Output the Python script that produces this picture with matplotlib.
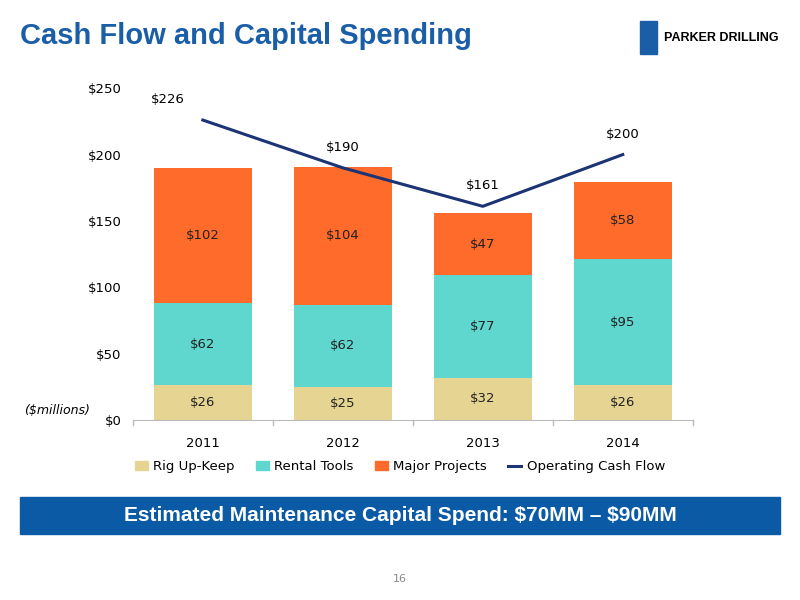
import matplotlib.pyplot as plt
import matplotlib.patches as mpatches
from matplotlib.lines import Line2D

years = ['2011', '2012', '2013', '2014']
rig_upkeep = [26, 25, 32, 26]
rental_tools = [62, 62, 77, 95]
major_projects = [102, 104, 47, 58]
operating_cf = [226, 190, 161, 200]

colors = {'Rig Up-Keep': '#E6D492', 'Rental Tools': '#5FD7CE',
          'Major Projects': '#FF6B2A', 'Operating Cash Flow': '#1C3475'}

fig = plt.figure(figsize=(8, 6), dpi=100)
ax = fig.add_axes([0.166, 0.30, 0.70, 0.553])
x = list(range(len(years)))
w = 0.7

bottom = [0] * 4
for name, vals in [('Rig Up-Keep', rig_upkeep), ('Rental Tools', rental_tools),
                   ('Major Projects', major_projects)]:
    ax.bar(x, vals, w, bottom=bottom, color=colors[name])
    for i, v in enumerate(vals):
        ax.text(i, bottom[i] + v / 2, f'${v}', ha='center', va='center',
                fontsize=9.5, color='#222222')
    bottom = [b + v for b, v in zip(bottom, vals)]

ax.plot(x, operating_cf, color=colors['Operating Cash Flow'], lw=2.2)
for i, v in enumerate(operating_cf):
    ax.annotate(f'${v}', (i, v), xytext=(-25 if i == 0 else 0, 10),
                textcoords='offset points', ha='center', va='bottom', fontsize=9.5)

ax.set_xlim(-0.5, 3.5)
ax.set_ylim(0, 250)
ax.set_yticks(range(0, 251, 50))
ax.set_yticklabels([f'${t}' for t in range(0, 251, 50)], fontsize=9.5)
ax.set_xticks(x)
ax.set_xticklabels(years, fontsize=9.5)
ax.tick_params(axis='x', length=0, pad=12)
ax.tick_params(axis='y', length=0, pad=8)
for s in ['top', 'right', 'left']:
    ax.spines[s].set_visible(False)
ax.spines['bottom'].set_color('#BBBBBB')
# small separator ticks on the x axis
for xs in [-0.5, 0.5, 1.5, 2.5, 3.5]:
    ax.plot([xs, xs], [0, -4], color='#BBBBBB', lw=1, clip_on=False)

fig.text(0.03, 0.31, '($millions)', fontsize=9, style='italic')

handles = [mpatches.Patch(color=colors[n]) for n in ['Rig Up-Keep', 'Rental Tools', 'Major Projects']]
handles.append(Line2D([0], [0], color=colors['Operating Cash Flow'], lw=2.2))
fig.legend(handles, ['Rig Up-Keep', 'Rental Tools', 'Major Projects', 'Operating Cash Flow'],
           loc='center', bbox_to_anchor=(0.5, 0.222), ncol=4, frameon=False,
           fontsize=9.5, handlelength=1.0, handletextpad=0.4, columnspacing=1.6)

fig.text(0.025, 0.94, 'Cash Flow and Capital Spending', fontsize=21, fontweight='bold',
         color='#1A5EA8', va='center', family='Liberation Sans')

# logo
fig.patches.append(mpatches.Rectangle((0.8, 0.91), 0.021, 0.055, transform=fig.transFigure,
                                      color='#1A5EA8'))
fig.text(0.83, 0.937, 'PARKER DRILLING', fontsize=9, fontweight='bold', va='center',
         family='Liberation Sans')

# banner
fig.patches.append(mpatches.Rectangle((0.025, 0.11), 0.95, 0.062, transform=fig.transFigure,
                                      color='#0B5AA6'))
fig.text(0.5, 0.141, 'Estimated Maintenance Capital Spend: \\$70MM \u2013 \\$90MM', fontsize=15,
         fontweight='bold', color='white', ha='center', va='center', family='Liberation Sans')

fig.text(0.5, 0.03, '16', fontsize=8, color='#888888', ha='center')

fig.savefig('out.png', dpi=100)
